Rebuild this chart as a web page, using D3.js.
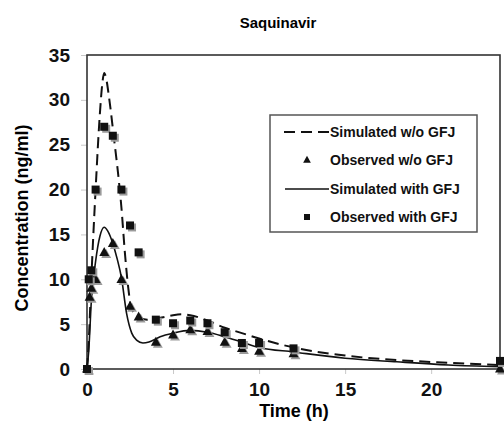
<!DOCTYPE html>
<html>
<head>
<meta charset="utf-8">
<script src="https://cdn.jsdelivr.net/npm/d3@7"></script>
<style>
  html, body { margin: 0; padding: 0; background: #fff; }
  svg { display: block; font-family: "Liberation Sans", Arial, sans-serif; font-weight: bold; }
</style>
</head>
<body>
<svg id="chart" width="504" height="437"></svg>
<script>
// Simulated profile, dashed curve (hours, ng/ml)
const simWoTime = [0, 0.1, 0.25, 0.5, 0.75, 0.9, 1.0, 1.1, 1.3, 1.55, 1.85, 2.0, 2.2, 2.4, 2.55, 2.8, 3.1, 3.5, 4, 4.5, 5, 5.5, 6, 7, 8, 9, 10, 12, 15, 18, 21, 24];
const simWoConc = [0, 3, 10, 20, 28.5, 32, 33, 32.5, 30, 26, 21, 18, 13, 9, 7, 6.1, 5.7, 5.5, 5.6, 5.8, 6.0, 6.1, 6.0, 5.4, 4.6, 4.0, 3.4, 2.4, 1.5, 1.0, 0.7, 0.45];

// Simulated profile, solid curve
const simWithTime = [0, 0.1, 0.25, 0.5, 0.75, 1.0, 1.2, 1.5, 1.75, 2.0, 2.3, 2.6, 2.9, 3.25, 3.6, 4.25, 5, 6, 7, 8, 9, 10, 12, 15, 18, 21, 24];
const simWithConc = [0, 2, 7.5, 12, 14.8, 15.8, 15.4, 14, 12.3, 10.2, 6.2, 4.0, 3.2, 2.9, 3.0, 3.6, 4.0, 4.3, 4.1, 3.6, 3.0, 2.4, 1.9, 1.2, 0.8, 0.45, 0.25];

// Observed triangles
const obsWoTime = [0, 0.15, 0.25, 0.5, 1, 1.5, 2, 2.5, 3, 4, 5, 6, 7, 8, 9, 10, 12, 24];
const obsWoConc = [0, 8, 9, 10, 13, 14, 10, 7, 5.8, 3, 3.8, 4.4, 4.2, 3.0, 2.3, 2.0, 1.7, 0];

// Observed squares
const obsWithTime = [0, 0.1, 0.25, 0.5, 1, 1.5, 2, 2.5, 3, 4, 5, 6, 7, 8, 9, 10, 12, 24];
const obsWithConc = [0, 10, 11, 20, 27, 26, 20, 16, 13, 5.5, 5.1, 5.4, 5.1, 4.1, 2.9, 2.9, 2.3, 0.9];

const xTicks = [0, 5, 10, 15, 20];
const yTicks = [0, 5, 10, 15, 20, 25, 30, 35];

const legendLabels = ["Simulated w/o GFJ", "Observed w/o GFJ", "Simulated with GFJ", "Observed with GFJ"];

const svg = d3.select("#chart");
const plot = { left: 87, right: 500, top: 55, bottom: 369 };

const x = d3.scaleLinear().domain([0, 24]).range([plot.left, plot.right]);
const y = d3.scaleLinear().domain([0, 35]).range([plot.bottom, plot.top]);

const zip = (ts, cs) => ts.map((t, i) => ({ t, c: cs[i] }));

// Title
svg.append("text")
  .attr("x", 278).attr("y", 28)
  .attr("text-anchor", "middle")
  .attr("font-size", 15)
  .text("Saquinavir");

// Axes (tick marks sit outside the frame, light grey)
const xAxis = d3.axisBottom(x).tickValues(xTicks).tickSize(5).tickPadding(9).tickFormat(d3.format("d"));
const yAxis = d3.axisLeft(y).tickValues(yTicks).tickSize(6).tickPadding(11).tickFormat(d3.format("d"));

const gx = svg.append("g").attr("transform", `translate(0,${plot.bottom})`).call(xAxis);
const gy = svg.append("g").attr("transform", `translate(${plot.left},0)`).call(yAxis);
[gx, gy].forEach(g => {
  g.select(".domain").remove();
  g.selectAll(".tick line").attr("stroke", "#c8c8c8").attr("stroke-width", 1);
  g.selectAll(".tick text")
    .attr("font-family", "Liberation Sans, Arial, sans-serif")
    .attr("font-weight", "bold")
    .attr("font-size", 19)
    .attr("fill", "#111");
});
gx.selectAll(".tick text").attr("dy", "0.71em");

// Frame
svg.append("rect")
  .attr("x", plot.left).attr("y", plot.top)
  .attr("width", plot.right - plot.left).attr("height", plot.bottom - plot.top)
  .attr("fill", "none").attr("stroke", "#333").attr("stroke-width", 1.6);

// Axis titles
svg.append("text")
  .attr("x", 294).attr("y", 417)
  .attr("text-anchor", "middle")
  .attr("font-size", 18)
  .text("Time (h)");

svg.append("text")
  .attr("transform", "translate(28,218) rotate(-90)")
  .attr("text-anchor", "middle")
  .attr("font-size", 18)
  .text("Concentration (ng/ml)");

// Curves
const line = d3.line().x(d => x(d.t)).y(d => y(d.c)).curve(d3.curveMonotoneX);

svg.append("path")
  .datum(zip(simWoTime, simWoConc))
  .attr("d", line)
  .attr("fill", "none").attr("stroke", "#111")
  .attr("stroke-width", 2).attr("stroke-dasharray", "11,6");

svg.append("path")
  .datum(zip(simWithTime, simWithConc))
  .attr("d", line)
  .attr("fill", "none").attr("stroke", "#111")
  .attr("stroke-width", 1.6);

// Markers with a soft grey drop shadow
const triPath = s => `M0,${-s * 0.6}L${s * 0.55},${s * 0.4}L${-s * 0.55},${s * 0.4}Z`;

function drawTriangles(data, size) {
  const g = svg.append("g");
  g.selectAll(".sh").data(data).join("path")
    .attr("d", triPath(size))
    .attr("transform", d => `translate(${x(d.t) + 2},${y(d.c) + 2})`)
    .attr("fill", "#9a9a9a");
  g.selectAll(".mk").data(data).join("path")
    .attr("d", triPath(size))
    .attr("transform", d => `translate(${x(d.t)},${y(d.c)})`)
    .attr("fill", "#111");
}

function drawSquares(data, size) {
  const g = svg.append("g");
  g.selectAll(".sh").data(data).join("rect")
    .attr("x", d => x(d.t) - size / 2 + 2).attr("y", d => y(d.c) - size / 2 + 2)
    .attr("width", size).attr("height", size)
    .attr("fill", "#9a9a9a");
  g.selectAll(".mk").data(data).join("rect")
    .attr("x", d => x(d.t) - size / 2).attr("y", d => y(d.c) - size / 2)
    .attr("width", size).attr("height", size)
    .attr("fill", "#111");
}

drawTriangles(zip(obsWoTime, obsWoConc), 9);
drawSquares(zip(obsWithTime, obsWithConc), 8);

// Legend
const lg = svg.append("g");
lg.append("rect")
  .attr("x", 270).attr("y", 115).attr("width", 207).attr("height", 117)
  .attr("fill", "#fff").attr("stroke", "#555").attr("stroke-width", 1.5);

const rowY = [132, 160, 189, 217];
legendLabels.forEach((label, i) => {
  lg.append("text")
    .attr("x", 330).attr("y", rowY[i])
    .attr("dy", "0.36em")
    .attr("font-size", 14)
    .attr("fill", "#111")
    .text(label);
});
lg.append("line")
  .attr("x1", 284).attr("x2", 329).attr("y1", rowY[0]).attr("y2", rowY[0])
  .attr("stroke", "#111").attr("stroke-width", 2).attr("stroke-dasharray", "11,6");
lg.append("path")
  .attr("d", triPath(7))
  .attr("transform", `translate(307,${rowY[1]})`)
  .attr("fill", "#111");
lg.append("line")
  .attr("x1", 285).attr("x2", 329).attr("y1", rowY[2]).attr("y2", rowY[2])
  .attr("stroke", "#111").attr("stroke-width", 1.6);
lg.append("rect")
  .attr("x", 304).attr("y", rowY[3] - 3).attr("width", 6).attr("height", 6)
  .attr("fill", "#111");
</script>
</body>
</html>
